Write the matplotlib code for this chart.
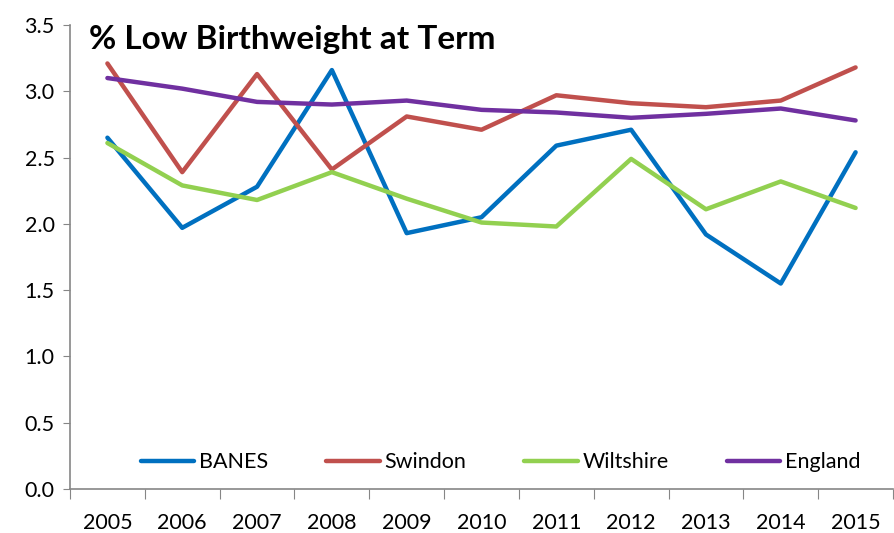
import numpy as np
import matplotlib.pyplot as plt

years = ['2005', '2006', '2007', '2008', '2009', '2010',
         '2011', '2012', '2013', '2014', '2015']

banes = [2.65, 1.97, 2.28, 3.16, 1.93, 2.05, 2.59, 2.71, 1.92, 1.55, 2.54]
swindon = [3.21, 2.39, 3.13, 2.41, 2.81, 2.71, 2.97, 2.91, 2.88, 2.93, 3.18]
wiltshire = [2.61, 2.29, 2.18, 2.39, 2.19, 2.01, 1.98, 2.49, 2.11, 2.32, 2.12]
england = [3.10, 3.02, 2.92, 2.90, 2.93, 2.86, 2.84, 2.80, 2.83, 2.87, 2.78]

series = [('BANES', banes, '#0070C0'),
          ('Swindon', swindon, '#C0504D'),
          ('Wiltshire', wiltshire, '#92D050'),
          ('England', england, '#7030A0')]

plt.rcParams['font.family'] = ['Lato', 'DejaVu Sans']

fig = plt.figure(figsize=(8.95, 5.33), dpi=100)
ax = fig.add_axes([70 / 895, 1 - 489 / 533, 823 / 895, 464 / 533])

x = np.arange(len(years))
for name, vals, col in series:
    ax.plot(x, vals, color=col, lw=3.2, label=name, solid_capstyle='round')

ax.set_xlim(-0.5, len(years) - 0.5)
ax.set_ylim(0, 3.5)
ax.set_yticks(np.arange(0, 3.51, 0.5))
ax.set_yticklabels([f'{v:.1f}' for v in np.arange(0, 3.51, 0.5)])

# category axis: tick marks between categories, labels centred
ax.set_xticks(np.arange(-0.5, len(years), 1.0))
ax.set_xticklabels([])
ax.set_xticks(x, minor=True)
ax.set_xticklabels(years, minor=True)
ax.tick_params(axis='x', which='major', direction='out', length=7, color='#868686')
ax.tick_params(axis='x', which='minor', length=0, pad=17, labelsize=15.5)
ax.tick_params(axis='y', direction='out', length=5, color='#868686', labelsize=15.5, pad=6)

for s in ['top', 'right']:
    ax.spines[s].set_visible(False)
for s in ['left', 'bottom']:
    ax.spines[s].set_color('#868686')
    ax.spines[s].set_linewidth(1.2)

fig.text(89 / 895, 1 - 40 / 533, '% Low Birthweight at Term', fontsize=24,
         fontweight='bold', va='center', ha='left')

ax.legend(loc='lower center', bbox_to_anchor=(0.523, -0.006), ncol=4, frameon=False,
          fontsize=15.5, handlelength=2.5, columnspacing=2.7, handletextpad=0.2)

fig.savefig('out.png', dpi=100)
